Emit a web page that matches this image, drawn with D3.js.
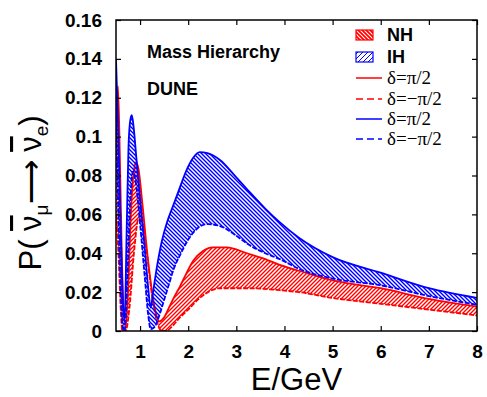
<!DOCTYPE html>
<html><head><meta charset="utf-8">
<script src="https://cdn.jsdelivr.net/npm/d3@7"></script>
<style>
html,body{margin:0;padding:0;background:#fff;}
svg{display:block;}
</style>
</head><body>
<svg id="chart" width="487" height="397"></svg>
<script>
// ---------- data ----------
const xTicks = [1,2,3,4,5,6,7,8];
const yTicks = [0,0.02,0.04,0.06,0.08,0.1,0.12,0.14,0.16];
const yTickLabels = ["0","0.02","0.04","0.06","0.08","0.1","0.12","0.14","0.16"];

// IH band (blue)
const ihUpperE = [0.5,0.55,0.6,0.65,0.68,0.72,0.76,0.8,0.83,0.87,0.92,1.0,1.1,1.17,1.22,1.27,1.35,1.45,1.56,1.68,1.83,1.97,2.1,2.24,2.4,2.66,3.0,3.22,3.6,3.9,4.3,5.0,6.0,7.0,8.0];
const ihUpperP = [0.140,0.100,0.050,0.012,0.006,0.050,0.095,0.109,0.111,0.104,0.090,0.068,0.042,0.022,0.012,0.020,0.033,0.046,0.056,0.064,0.074,0.083,0.089,0.092,0.0915,0.088,0.079,0.073,0.063,0.056,0.048,0.038,0.030,0.022,0.017];
const ihLowerE = [0.5,0.55,0.6,0.64,0.68,0.74,0.8,0.85,0.9,1.0,1.1,1.17,1.22,1.3,1.4,1.5,1.6,1.7,1.83,2.0,2.2,2.4,2.66,3.0,3.22,3.6,3.9,4.3,5.0,6.0,7.0,8.0];
const ihLowerP = [0.110,0.060,0.020,0.002,0.000,0.030,0.068,0.082,0.078,0.055,0.027,0.008,0.001,0.002,0.008,0.016,0.024,0.032,0.039,0.047,0.053,0.055,0.054,0.049,0.045,0.040,0.037,0.032,0.027,0.0235,0.018,0.0135];

// NH band (red)
const nhUpperE = [0.5,0.54,0.58,0.62,0.66,0.7,0.75,0.8,0.86,0.92,0.97,1.05,1.15,1.25,1.32,1.4,1.5,1.6,1.7,1.83,1.95,2.1,2.3,2.51,2.8,3.22,3.6,3.9,4.3,5.0,6.0,7.0,8.0];
const nhUpperP = [0.100,0.126,0.090,0.040,0.010,0.003,0.020,0.055,0.080,0.087,0.083,0.065,0.040,0.020,0.010,0.005,0.007,0.012,0.017,0.023,0.029,0.036,0.041,0.043,0.043,0.040,0.037,0.034,0.031,0.026,0.022,0.0165,0.0125];
const nhLowerE = [0.5,0.55,0.6,0.63,0.7,0.78,0.88,0.97,1.05,1.15,1.25,1.35,1.45,1.55,1.65,1.83,2.0,2.24,2.66,3.22,3.9,4.3,5.0,6.0,7.0,8.0];
const nhLowerP = [0.060,0.040,0.010,0.000,0.000,0.012,0.042,0.058,0.055,0.038,0.018,0.005,0.000,0.000,0.002,0.007,0.011,0.017,0.022,0.022,0.021,0.020,0.017,0.014,0.011,0.008];

const legendLabels = ["NH","IH","δ=π/2","δ=−π/2","δ=π/2","δ=−π/2"];

// ---------- drawing ----------
const svg = d3.select("#chart");
const L = 116, R = 477, T = 20, B = 331;
const x = d3.scaleLinear().domain([0.5, 8]).range([L, R]);
const y = d3.scaleLinear().domain([0, 0.16]).range([B, T]);

const defs = svg.append("defs");
defs.append("clipPath").attr("id","clip").append("rect")
  .attr("x", L).attr("y", T).attr("width", R-L).attr("height", B-T);

function hatch(id, color, dir, w, sw) {
  const p = defs.append("pattern").attr("id", id)
    .attr("patternUnits","userSpaceOnUse").attr("width",w).attr("height",w);
  const d = dir === "back"
    ? `M0,0 L${w},${w} M-1,${w-1} L1,${w+1} M${w-1},-1 L${w+1},1`
    : `M0,${w} L${w},0 M-1,1 L1,-1 M${w-1},${w+1} L${w+1},${w-1}`;
  p.append("path").attr("d", d).attr("stroke", color).attr("stroke-width", sw).attr("fill","none");
}
hatch("hNH", "#ff0000", "fwd", 4, 1.4);
hatch("hIH", "#0000ff", "back", 4, 1.4);
hatch("hNHleg", "#ff0000", "back", 4, 1.8);
hatch("hIHleg", "#0000ff", "fwd", 5, 1.0);

function zipPts(E, P) { return E.map((e,i)=>[e, P[i]]); }

const g = svg.append("g").attr("clip-path","url(#clip)");
const line = d3.line().x(d=>x(d[0])).y(d=>y(d[1])).curve(d3.curveMonotoneX);

function drawBand(uE,uP,lE,lP,color,pat){
  const up = zipPts(uE,uP), lo = zipPts(lE,lP);
  const upD = line(up);
  const loRevD = line(lo.slice().reverse());
  const regionD = upD + "L" + loRevD.slice(1) + "Z";
  g.append("path").attr("d", regionD).attr("fill", `url(#${pat})`).attr("stroke","none");
  g.append("path").attr("d", line(up)).attr("fill","none").attr("stroke",color).attr("stroke-width",1.8);
  g.append("path").attr("d", line(lo)).attr("fill","none").attr("stroke",color).attr("stroke-width",1.8).attr("stroke-dasharray","5,1.5");
}
drawBand(nhUpperE,nhUpperP,nhLowerE,nhLowerP,"#ff0000","hNH");
drawBand(ihUpperE,ihUpperP,ihLowerE,ihLowerP,"#0000ff","hIH");

// axes
const tickFont = "'Liberation Sans', Arial, sans-serif";
const ax = svg.append("g").attr("transform",`translate(0,${B})`)
  .call(d3.axisBottom(x).tickValues(xTicks).tickSize(-5).tickPadding(14).tickFormat(d3.format("d")));
const axT = svg.append("g").attr("transform",`translate(0,${T})`)
  .call(d3.axisTop(x).tickValues(xTicks).tickSize(-5).tickFormat(""));
const ay = svg.append("g").attr("transform",`translate(${L},0)`)
  .call(d3.axisLeft(y).tickValues(yTicks).tickSize(-5).tickPadding(14).tickFormat((d,i)=>yTickLabels[i]));
const ayR = svg.append("g").attr("transform",`translate(${R},0)`)
  .call(d3.axisRight(y).tickValues(yTicks).tickSize(-5).tickFormat(""));
[ax,axT,ay,ayR].forEach(a=>{
  a.select(".domain").remove();
  a.selectAll("line").attr("stroke","#000").attr("stroke-width",1.2);
  a.selectAll("text").attr("font-family",tickFont).attr("font-weight","bold").attr("font-size",19).attr("fill","#000");
});
svg.append("rect").attr("x",L).attr("y",T).attr("width",R-L).attr("height",B-T)
  .attr("fill","none").attr("stroke","#000").attr("stroke-width",1.5);

// axis titles
svg.append("text").attr("x",(L+R)/2).attr("y",390).attr("text-anchor","middle")
  .attr("font-family",tickFont).attr("font-size",31).text("E/GeV");

const yl = svg.append("text").attr("transform","translate(41,193) rotate(-90)")
  .attr("text-anchor","middle").attr("font-family",tickFont).attr("font-size",31);
yl.append("tspan").text("P(  ");
yl.append("tspan").attr("text-decoration","overline").text("ν");
yl.append("tspan").attr("font-size",19).attr("dy",7).text("μ");
yl.append("tspan").attr("dy",-7).text("⟶  ");
yl.append("tspan").attr("text-decoration","overline").text("ν");
yl.append("tspan").attr("font-size",19).attr("dy",7).text("e");
yl.append("tspan").attr("dy",-7).text(")");

// annotations
svg.append("text").attr("x",147).attr("y",58).attr("font-family",tickFont).attr("font-weight","bold")
  .attr("font-size",18).text("Mass Hierarchy");
svg.append("text").attr("x",147).attr("y",95).attr("font-family",tickFont).attr("font-weight","bold")
  .attr("font-size",18).text("DUNE");

// legend
const lg = svg.append("g");
const rowsY = [35,57,78,99,119,139];
const swX0 = 356, swX1 = 382, txX = 387;
lg.append("rect").attr("x",swX0).attr("y",rowsY[0]-5).attr("width",17).attr("height",10)
  .attr("fill","url(#hNHleg)").attr("stroke","#ff0000").attr("stroke-width",1.2);
lg.append("rect").attr("x",swX0).attr("y",rowsY[1]-5).attr("width",17).attr("height",10)
  .attr("fill","url(#hIHleg)").attr("stroke","#0000ff").attr("stroke-width",1.2);
const lineStyles = [{c:"#ff0000",d:null},{c:"#ff0000",d:"7,4"},{c:"#0000ff",d:null},{c:"#0000ff",d:"7,4"}];
lineStyles.forEach((s,i)=>{
  const yy = rowsY[i+2];
  lg.append("line").attr("x1",swX0).attr("x2",swX1).attr("y1",yy).attr("y2",yy)
    .attr("stroke",s.c).attr("stroke-width",1.5).attr("stroke-dasharray",s.d);
});
legendLabels.forEach((t,i)=>{
  const bold = i<2;
  lg.append("text").attr("x",txX).attr("y",rowsY[i]+6)
    .attr("font-family", bold ? tickFont : "'Liberation Serif','Times New Roman',serif")
    .attr("font-weight", bold ? "bold":"normal")
    .attr("font-size", bold ? 18 : 19).text(t);
});
</script>
</body></html>
